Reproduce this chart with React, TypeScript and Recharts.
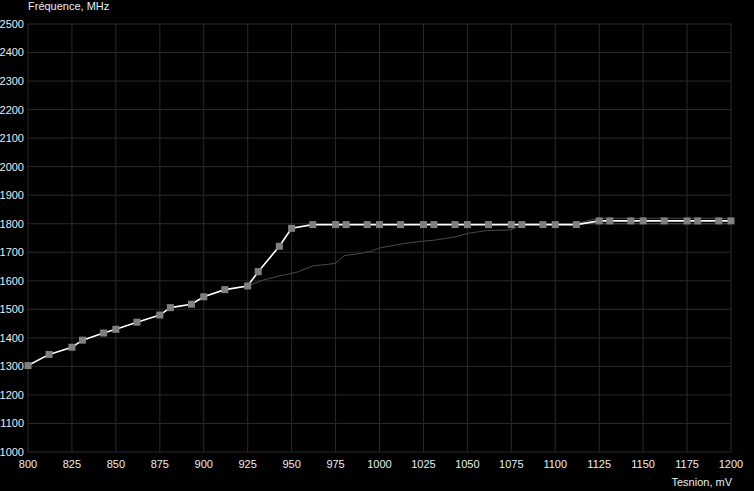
import { LineChart, Line, XAxis, YAxis, CartesianGrid } from 'recharts';

// Кривая частота/напряжение (белая, с точками)
const VOLTAGES = [
  800, 812, 825, 831, 843, 850, 862, 875, 881, 893, 900, 912, 925, 931, 943, 950,
  962, 975, 981, 993, 1000, 1012, 1025, 1031, 1043, 1050, 1062, 1075, 1081, 1093, 1100, 1112,
  1125, 1131, 1143, 1150, 1162, 1175, 1181, 1193, 1200,
];
const FREQS = [
  1303, 1342, 1367, 1392, 1417, 1430, 1455, 1480, 1506, 1518, 1544, 1569, 1582, 1632, 1721, 1784,
  1797, 1797, 1797, 1797, 1797, 1797, 1797, 1797, 1797, 1797, 1797, 1797, 1797, 1797, 1797, 1797,
  1810, 1810, 1810, 1810, 1810, 1810, 1810, 1810, 1810,
];

// Исходная кривая (серая)
const BASE_V = [925, 934, 943, 953, 962, 975, 980, 987, 995, 1000, 1014, 1025, 1032, 1044, 1050, 1061, 1074, 1079, 1083, 1112, 1200];
const BASE_F = [1582, 1603, 1617, 1630, 1652, 1661, 1688, 1694, 1703, 1715, 1731, 1739, 1743, 1755, 1766, 1776, 1778, 1790, 1800, 1800, 1800];
const UPPER_V = [1112, 1118, 1125, 1200];
const UPPER_F = [1800, 1810, 1819, 1819];

const X_TICKS = [800, 825, 850, 875, 900, 925, 950, 975, 1000, 1025, 1050, 1075, 1100, 1125, 1150, 1175, 1200];
const Y_TICKS = [1000, 1100, 1200, 1300, 1400, 1500, 1600, 1700, 1800, 1900, 2000, 2100, 2200, 2300, 2400, 2500];

const curve = VOLTAGES.map((v, i) => ({ v, f: FREQS[i] }));
const base = BASE_V.map((v, i) => ({ v, f: BASE_F[i] }));
const upper = UPPER_V.map((v, i) => ({ v, f: UPPER_F[i] }));

const TEXT = '#e6eef6';
const FONT = '"Liberation Sans", Arial, sans-serif';

const SquareDot = (props: { cx?: number; cy?: number; index?: number }) => {
  const { cx, cy, index } = props;
  if (cx == null || cy == null) return null;
  return <rect key={index} x={cx - 3.5} y={cy - 3.5} width={7} height={7} fill="#808080" />;
};

export default function App() {
  return (
    <div style={{ position: 'fixed', left: 0, top: 0, width: 754, height: 491, background: '#000', fontFamily: FONT, fontSize: 11 }}>
      <LineChart width={754} height={491} margin={{ top: 24, right: 23, bottom: 9, left: 0 }}>
        <CartesianGrid stroke="#2a2a2a" strokeWidth={1} />
        <XAxis
          type="number"
          dataKey="v"
          domain={[800, 1200]}
          ticks={X_TICKS}
          interval={0}
          height={30}
          axisLine={false}
          tickLine={false}
          tickSize={0}
          tickMargin={8}
          tick={{ fill: TEXT, fontSize: 11, fontFamily: FONT }}
          allowDuplicatedCategory={false}
        />
        <YAxis
          type="number"
          domain={[1000, 2500]}
          ticks={Y_TICKS}
          interval={0}
          width={28}
          axisLine={false}
          tickLine={false}
          tickSize={0}
          tickMargin={4}
          tick={{ fill: TEXT, fontSize: 11, fontFamily: FONT }}
        />
        <Line data={base} dataKey="f" type="linear" stroke="#4a4a4a" strokeWidth={1} dot={false} isAnimationActive={false} />
        <Line data={upper} dataKey="f" type="linear" stroke="#4a4a4a" strokeWidth={1} dot={false} isAnimationActive={false} />
        <Line
          data={curve}
          dataKey="f"
          type="linear"
          stroke="#ffffff"
          strokeWidth={1.6}
          dot={<SquareDot />}
          activeDot={false}
          isAnimationActive={false}
        />
      </LineChart>
      <div style={{ position: 'absolute', left: 28, top: 0, lineHeight: '12px', color: TEXT }}>Fréquence, MHz</div>
      <div style={{ position: 'absolute', right: 22, top: 476, lineHeight: '12px', color: TEXT }}>Tesnion, mV</div>
    </div>
  );
}
